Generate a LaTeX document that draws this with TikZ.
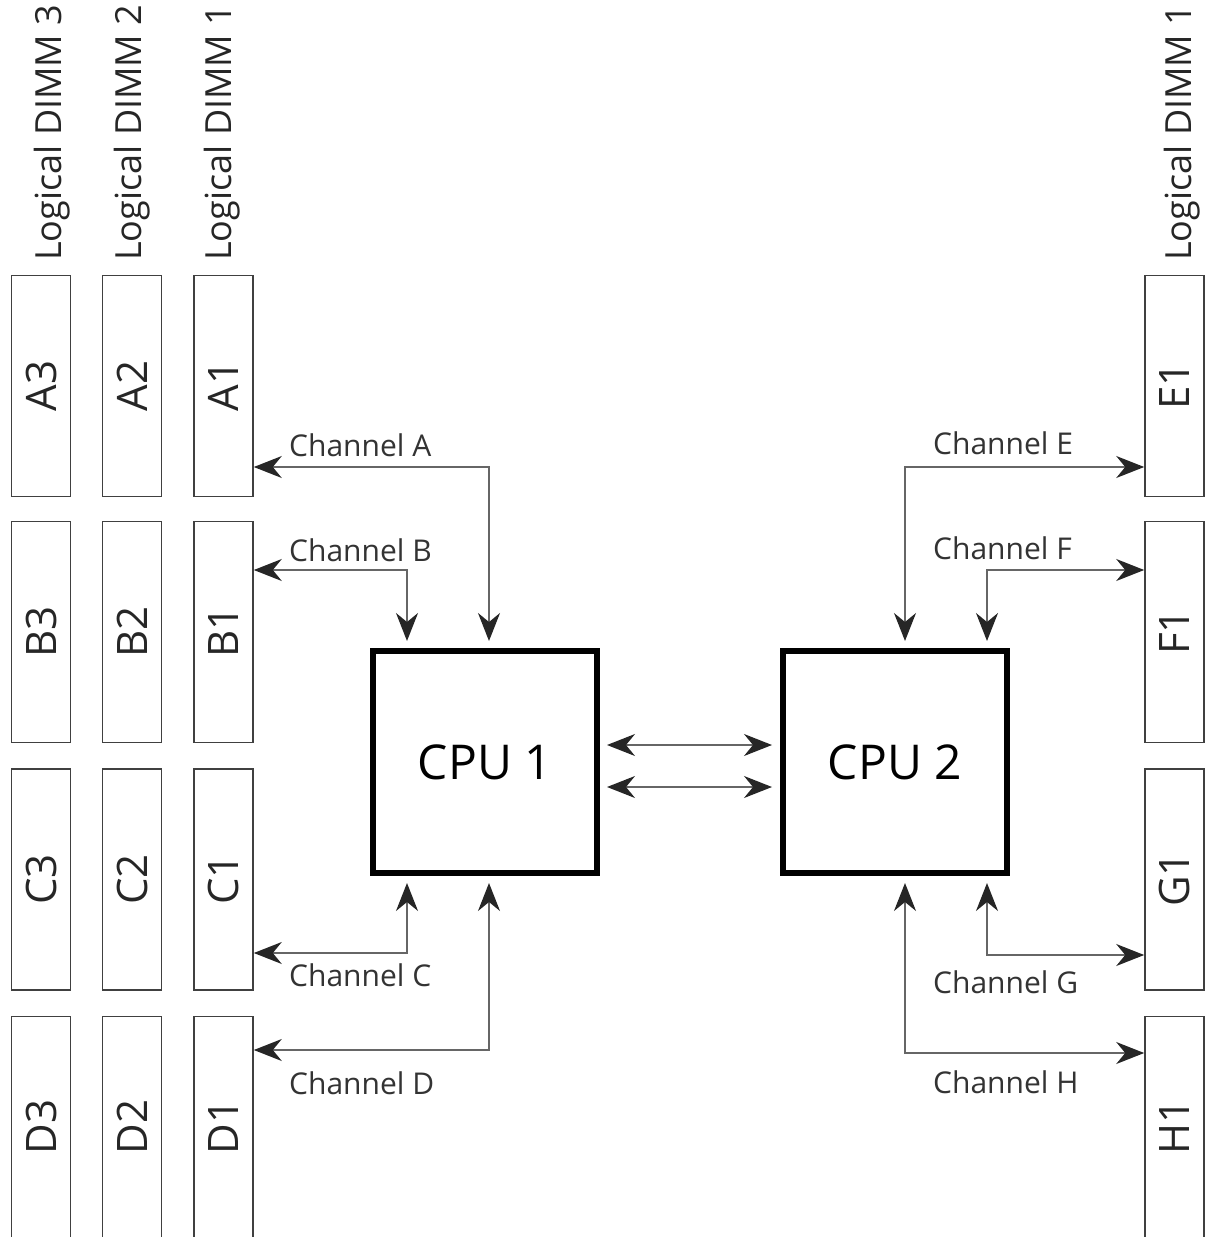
\documentclass[tikz,border=0pt]{standalone}
\usepackage{fontspec}
\setmainfont{Open Sans}
\usetikzlibrary{arrows.meta}
\begin{document}
\begin{tikzpicture}[x=1pt,y=-1pt,
  dimm/.style={draw=black!75,line width=1.6pt,minimum width=59pt,minimum height=221pt,inner sep=0pt},
  dimmlbl/.style={rotate=90,inner sep=0pt,text=black!85,font=\fontsize{42}{42}\selectfont},
  logic/.style={rotate=90,anchor=west,inner sep=0pt,text=black!85,font=\fontsize{36}{36}\selectfont},
  cpu/.style={draw=black,line width=6pt,minimum width=224pt,minimum height=222pt,inner sep=0pt,font=\fontsize{48}{48}\selectfont},
  chan/.style={draw=black!60,line width=1.6pt,{Stealth[length=28pt,width=22pt,inset=9pt,color=black!85]}-{Stealth[length=28pt,width=22pt,inset=9pt,color=black!85]},shorten >=7pt},
  link/.style={draw=black!60,line width=1.6pt,{Stealth[length=28pt,width=22pt,inset=9pt,color=black!85]}-{Stealth[length=28pt,width=22pt,inset=9pt,color=black!85]},shorten <=7pt,shorten >=8pt},
  chlbl/.style={anchor=west,inner sep=0pt,text=black!80,font=\fontsize{30}{30}\selectfont}]
\useasboundingbox (0,0) rectangle (1209,1237);
% DIMM slots, CPU 1 side
\foreach \r/\y in {A/386,B/632,C/879.5,D/1127}{
  \foreach \c/\x in {3/41,2/132,1/223.5}{
    \node[dimm] (\r\c) at (\x,\y) {};
    \node[dimmlbl] (\r\c l) at (\r\c) {\r\c};
  }
}
% DIMM slots, CPU 2 side
\foreach \r/\y in {E/386,F/632,G/879.5,H/1127}{
  \node[dimm] (\r1) at (1174.5,\y) {};
  \node[dimmlbl] (\r1l) at (\r1) {\r1};
}
\node[logic] (ld3) at (52,261) {Logical DIMM 3};
\node[logic] (ld2) at (132,261) {Logical DIMM 2};
\node[logic] (ld1) at (222,261) {Logical DIMM 1};
\node[logic] (le1) at (1182,261) {Logical DIMM 1};
% processors
\node[cpu] (cpu1) at (485,762) {CPU 1};
\node[cpu] (cpu2) at (895,762) {CPU 2};
\draw[link] ([yshift=17pt]cpu1.east) -- ([yshift=17pt]cpu2.west);
\draw[link] ([yshift=-25pt]cpu1.east) -- ([yshift=-25pt]cpu2.west);
% memory channels
\draw[chan] (A1.east |- 0,467) -| ([xshift=4pt]cpu1.north);
\draw[chan] (B1.east |- 0,570) -| ([xshift=-78pt]cpu1.north);
\draw[chan] (C1.east |- 0,953) -| ([xshift=-78pt]cpu1.south);
\draw[chan] (D1.east |- 0,1050) -| ([xshift=4pt]cpu1.south);
\draw[chan] (E1.west |- 0,467) -| ([xshift=10pt]cpu2.north);
\draw[chan] (F1.west |- 0,570) -| ([xshift=92pt]cpu2.north);
\draw[chan] (G1.west |- 0,955) -| ([xshift=92pt]cpu2.south);
\draw[chan] (H1.west |- 0,1053) -| ([xshift=10pt]cpu2.south);
\node[chlbl] (chA) at (289,445) {Channel A};
\node[chlbl] (chB) at (289,550) {Channel B};
\node[chlbl] (chC) at (289,975) {Channel C};
\node[chlbl] (chD) at (289,1083) {Channel D};
\node[chlbl] (chE) at (933,443) {Channel E};
\node[chlbl] (chF) at (933,548) {Channel F};
\node[chlbl] (chG) at (933,982) {Channel G};
\node[chlbl] (chH) at (933,1082) {Channel H};
\end{tikzpicture}
\end{document}
